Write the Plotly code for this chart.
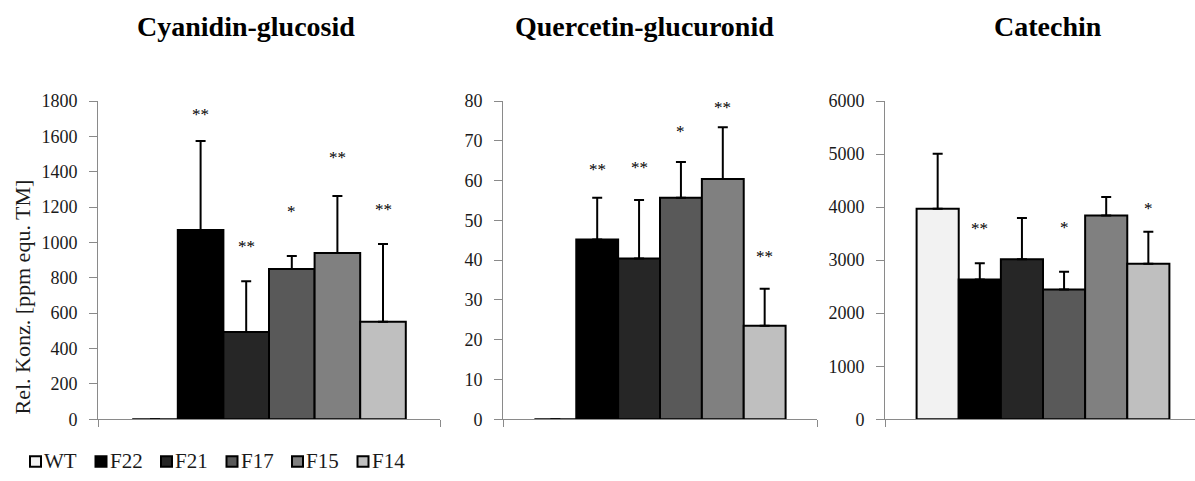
import plotly.graph_objects as go

# Genotypes (legend order) and their bar fills
genotypes = ["WT", "F22", "F21", "F17", "F15", "F14"]
bar_colors = ["#f2f2f2", "#000000", "#262626", "#595959", "#808080", "#bfbfbf"]

compounds = ["Cyanidin-glucosid", "Quercetin-glucuronid", "Catechin"]

# Mean relative concentration [ppm equ. TM] and standard deviation per genotype
cyanidin_mean = [0, 1071, 494, 850, 941, 552]
cyanidin_sd = [0, 503, 286, 73, 322, 439]
quercetin_mean = [0, 45.2, 40.4, 55.7, 60.4, 23.5]
quercetin_sd = [0, 10.5, 14.7, 9.0, 13.0, 9.3]
catechin_mean = [3968, 2635, 3015, 2448, 3841, 2931]
catechin_sd = [1037, 308, 778, 332, 350, 603]

# Significance markers vs. WT
cyanidin_sig = ["", "**", "**", "*", "**", "**"]
quercetin_sig = ["", "**", "**", "*", "**", "**"]
catechin_sig = ["", "**", "", "*", "", "*"]

# Vertical placement of the significance markers (data units)
cyanidin_sig_y = [None, 1722, 977, 1176, 1483, 1185]
quercetin_sig_y = [None, 62.9, 63.4, 72.4, 78.3, 41.0]
catechin_sig_y = [None, 3588, None, 3618, None, 3980]

y_max = [1800, 80, 6000]
y_step = [200, 10, 1000]

means = [cyanidin_mean, quercetin_mean, catechin_mean]
sds = [cyanidin_sd, quercetin_sd, catechin_sd]
sigs = [cyanidin_sig, quercetin_sig, catechin_sig]
sig_ys = [cyanidin_sig_y, quercetin_sig_y, catechin_sig_y]

W, H = 1195, 481
SERIF = "Liberation Serif, Times New Roman, serif"
AXIS_GREY = "#8a8a8a"
TEXT = "#1a1a1a"

# panel geometry in pixels
x_domains_px = [(98, 440), (503, 817), (885, 1195)]
x_ranges = [[-0.5, 0.5], [-0.5, 0.5], [-0.5, 0.481]]
y_domain = [(H - 427) / H, (H - 95) / H]
title_centers_px = [246, 644, 1048]

BARGAP = 0.2
n = len(genotypes)

fig = go.Figure()

for p in range(3):
    xa = "x" if p == 0 else f"x{p + 1}"
    ya = "y" if p == 0 else f"y{p + 1}"
    for i, g in enumerate(genotypes):
        fig.add_trace(go.Bar(
            x=[0], y=[means[p][i]],
            name=g, legendgroup=g, showlegend=False,
            marker=dict(color=bar_colors[i], line=dict(color="black", width=2)),
            error_y=dict(type="data", symmetric=False, array=[sds[p][i]], arrayminus=[0],
                         color="black", thickness=2, width=5),
            xaxis=xa, yaxis=ya,
        ))
    # significance stars above the bars
    for i in range(n):
        if sigs[p][i]:
            xc = -0.5 * (1 - BARGAP) + (i + 0.5) * (1 - BARGAP) / n
            fig.add_annotation(x=xc, y=sig_ys[p][i], xref=xa, yref=ya, text=sigs[p][i],
                               showarrow=False, xanchor="center", yanchor="middle", yshift=0,
                               font=dict(family=SERIF, size=17, color="black"))
    # panel title
    fig.add_annotation(x=title_centers_px[p] / W, y=(H - 17) / H, xref="paper", yref="paper",
                       text=f"<b>{compounds[p]}</b>", showarrow=False,
                       xanchor="center", yanchor="middle",
                       font=dict(family=SERIF, size=28, color="black"))

    x0, x1 = x_domains_px[p]
    xkey = "xaxis" if p == 0 else f"xaxis{p + 1}"
    ykey = "yaxis" if p == 0 else f"yaxis{p + 1}"
    fig.layout[xkey] = dict(
        domain=[x0 / W, min(x1 / W, 1.0)], range=x_ranges[p], anchor=ya,
        showline=True, linecolor=AXIS_GREY, linewidth=1,
        ticks="outside", tickvals=[-0.5, 0.5], ticklen=7, tickcolor=AXIS_GREY,
        showticklabels=False, showgrid=False, zeroline=False, fixedrange=True,
    )
    fig.layout[ykey] = dict(
        domain=y_domain, range=[0, y_max[p]], dtick=y_step[p], anchor=xa,
        showline=True, linecolor=AXIS_GREY, linewidth=1,
        ticks="outside", ticklen=8, tickcolor=AXIS_GREY, ticklabelstandoff=8,
        tickfont=dict(family=SERIF, size=18, color=TEXT),
        showgrid=False, zeroline=False, fixedrange=True,
    )

# y-axis title on the first panel
fig.add_annotation(x=23 / W, y=(H - 300) / H, xref="paper", yref="paper",
                   text="Rel. Konz. [ppm equ. TM]", textangle=-90, showarrow=False,
                   xanchor="center", yanchor="middle",
                   font=dict(family=SERIF, size=22, color=TEXT))

# legend row: outlined swatch followed by the genotype name
LEG_X0, LEG_STEP, LEG_Y, SW = 30, 65.5, 471, 11
for i, g in enumerate(genotypes):
    sx = LEG_X0 + i * LEG_STEP
    fig.add_shape(type="rect", xref="paper", yref="paper",
                  x0=sx / W, x1=(sx + SW) / W,
                  y0=(H - LEG_Y - SW / 2) / H, y1=(H - LEG_Y + SW / 2) / H,
                  fillcolor=bar_colors[i], line=dict(color="black", width=2))
    fig.add_annotation(x=(sx + SW + 2) / W, y=(H - LEG_Y) / H, xref="paper", yref="paper",
                       text=g, showarrow=False, xanchor="left", yanchor="middle",
                       xshift=-1, font=dict(family=SERIF, size=21, color=TEXT))

fig.update_layout(
    width=W, height=H,
    margin=dict(l=0, r=0, t=0, b=0),
    paper_bgcolor="white", plot_bgcolor="white",
    barmode="group", bargap=BARGAP, bargroupgap=0,
    showlegend=False,
)

fig.write_html("out.html")
